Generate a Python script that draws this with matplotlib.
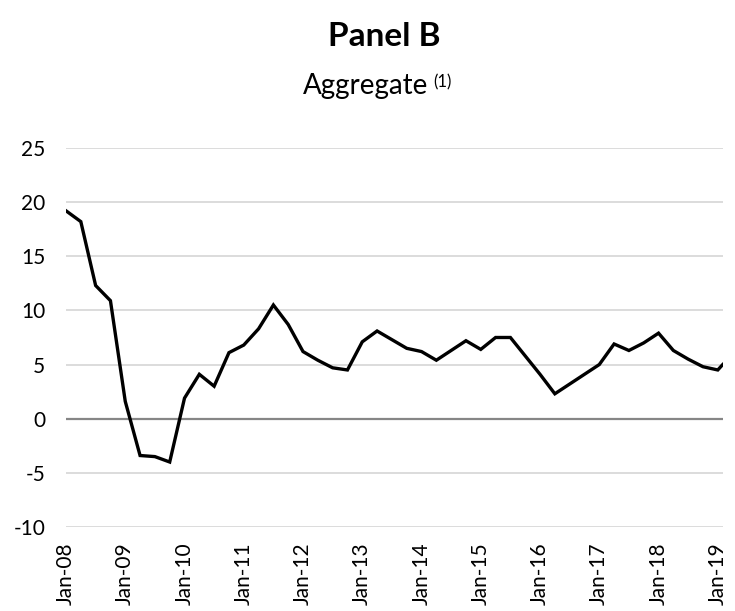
"""Panel B - Aggregate (1), quarterly growth rates 2008-2019"""
import pandas as pd
import matplotlib
matplotlib.use("Agg")
import matplotlib.pyplot as plt
import matplotlib.transforms as mtransforms

plt.rcParams['font.family'] = ['Lato', 'DejaVu Sans']

# quarterly observations Jan-08 .. Jan-19, plus the latest month (Feb-19)
dates = list(pd.date_range("2008-01-01", "2019-01-01", freq="QS")) + [pd.Timestamp("2019-02-01")]
values = [19.2, 18.2, 12.3, 10.9, 1.6, -3.4, -3.5, -4.0,
          1.9, 4.1, 3.0, 6.1, 6.8, 8.3, 10.5, 8.7,
          6.2, 5.4, 4.7, 4.5, 7.1, 8.1, 7.3, 6.5,
          6.2, 5.4, 6.3, 7.2, 6.4, 7.5, 7.5, 5.8,
          4.1, 2.3, 3.2, 4.1, 5.0, 6.9, 6.3, 7.0,
          7.9, 6.3, 5.5, 4.8, 4.5, 5.0]
tick_years = list(range(2008, 2020))
y_ticks = [-10, -5, 0, 5, 10, 15, 20, 25]


def month_index(d):
    return (d.year - 2008) * 12 + (d.month - 1)


def main():
    fig = plt.figure(figsize=(7.35, 6.11), dpi=100)
    ax = fig.add_axes([0.0898, 0.1375, 0.8935, 0.6203])

    x = [month_index(d) for d in dates]
    for yv in y_ticks:
        if yv == 0:
            continue
        ax.axhline(yv, color="#d9d9d9", lw=1.3, zorder=1)
    ax.axhline(0, color="#868686", lw=1.6, zorder=2)
    ax.plot(x, values, color="black", lw=2.4, zorder=3, solid_joinstyle="miter")

    ax.set_xlim(0, month_index(dates[-1]))
    ax.set_ylim(-10, 25)
    ax.set_yticks(y_ticks)
    ax.set_yticklabels([str(v) for v in y_ticks], fontsize=15)
    ax.set_xticks([(yr - 2008) * 12 for yr in tick_years])
    ax.set_xticklabels([f"Jan-{yr % 100:02d}" for yr in tick_years],
                       rotation=90, fontsize=15)
    shift = mtransforms.ScaledTranslation(6 / 100, 0, fig.dpi_scale_trans)
    for lbl in ax.get_xticklabels():
        lbl.set_transform(lbl.get_transform() + shift)
    ax.tick_params(axis="both", length=0)
    ax.tick_params(axis="y", pad=15)
    ax.tick_params(axis="x", pad=11)
    for s in ax.spines.values():
        s.set_visible(False)

    fig.text(384 / 735, 1 - 37 / 611, "Panel B", ha="center", va="center",
             fontsize=24, fontweight="bold")
    t = fig.text(366 / 735, 1 - 86 / 611, "Aggregate", ha="center", va="center",
                 fontsize=20)
    ax.annotate("(1)", xy=(1, 1), xycoords=t, xytext=(3, -1),
                textcoords="offset points", ha="left", va="top", fontsize=12)

    fig.savefig("out.png", dpi=100)


if __name__ == "__main__":
    main()
